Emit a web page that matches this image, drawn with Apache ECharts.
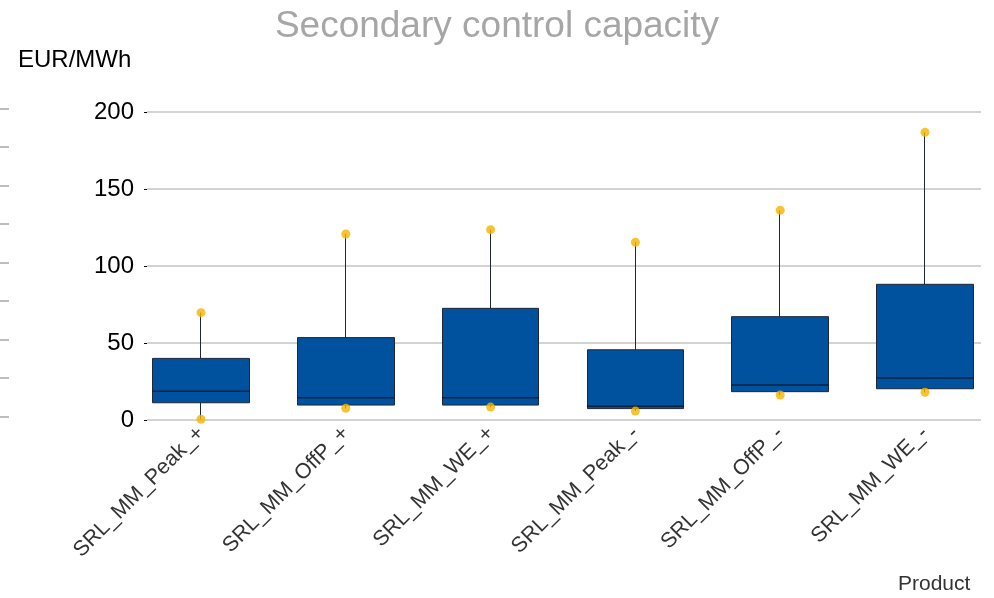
<!DOCTYPE html>
<html>
<head>
<meta charset="utf-8">
<script src="https://cdn.jsdelivr.net/npm/echarts@6/dist/echarts.min.js"></script>
<style>html,body{margin:0;padding:0;background:#fff}#c{width:994px;height:598px}</style>
</head>
<body>
<div id="c"></div>
<script>
const categories = ['SRL_MM_Peak_+', 'SRL_MM_OffP_+', 'SRL_MM_WE_+', 'SRL_MM_Peak_-', 'SRL_MM_OffP_-', 'SRL_MM_WE_-'];
const minVals    = [0.5, 7.6, 8.4, 5.8, 16.2, 18.0];
const q1Vals     = [11.2, 9.7, 9.7, 7.4, 18.4, 20.3];
const medianVals = [18.6, 14.5, 14.5, 8.9, 22.7, 27.3];
const q3Vals     = [40.0, 53.5, 72.5, 45.6, 67.1, 88.1];
const maxVals    = [69.7, 120.8, 123.6, 115.4, 136.2, 186.8];
const yTicks = { min: 0, max: 200, interval: 50 };

const chart = echarts.init(document.getElementById('c'), null, { renderer: 'canvas' });
const candleData = categories.map((c, i) => [q1Vals[i], q3Vals[i], minVals[i], maxVals[i]]);
const FONT = 'Liberation Sans, Arial, sans-serif';

chart.setOption({
  animation: false,
  textStyle: { fontFamily: FONT },
  title: {
    text: 'Secondary control capacity',
    left: 'center', top: 3,
    textStyle: { fontSize: 37, fontWeight: 'normal', color: '#a6a6a6', fontFamily: FONT }
  },
  graphic: [
    { type: 'text', left: 18, top: 48, style: { text: 'EUR/MWh', fontSize: 24, fill: '#000', fontFamily: FONT } },
    { type: 'text', left: 898, top: 574, style: { text: 'Product', fontSize: 21, fill: '#333', fontFamily: FONT } }
  ],
  grid: [
    { left: 147, width: 834, top: 112, bottom: 178 },
    { left: 201, width: 724, top: 112, bottom: 178 },
    { left: 9, width: 1, top: 108.7, bottom: 181.3 }
  ],
  xAxis: [
    { type: 'category', gridIndex: 0, data: categories, show: false },
    { type: 'category', gridIndex: 1, data: categories, boundaryGap: false,
      axisLine: { show: false }, axisTick: { show: false },
      axisLabel: { rotate: 45, fontSize: 21.5, color: '#333', margin: 10, interval: 0 } },
    { type: 'value', gridIndex: 2, show: false }
  ],
  yAxis: [
    { type: 'value', gridIndex: 0, min: yTicks.min, max: yTicks.max, interval: yTicks.interval,
      axisLine: { show: false },
      axisTick: { show: true, length: 3, lineStyle: { color: '#000' } },
      axisLabel: { fontSize: 24, color: '#000', margin: 13 },
      splitLine: { lineStyle: { color: '#c4c4c4', width: 1.5 } } },
    { type: 'value', gridIndex: 1, min: yTicks.min, max: yTicks.max, show: false },
    { type: 'value', gridIndex: 2, min: 0, max: 200, interval: 25,
      axisLine: { show: false },
      axisTick: { show: true, length: 9, lineStyle: { color: '#bdbdbd', width: 2 } },
      axisLabel: { show: false }, splitLine: { show: false } }
  ],
  series: [
    { type: 'candlestick', xAxisIndex: 1, yAxisIndex: 1, data: candleData, barWidth: '67%', clip: false,
      itemStyle: { color: '#00519e', color0: '#00519e', borderColor: '#1e2836', borderColor0: '#1e2836', borderWidth: 1 } },
    { type: 'scatter', xAxisIndex: 1, yAxisIndex: 1, data: medianVals, symbol: 'rect', symbolSize: [97, 1.5], clip: false,
      itemStyle: { color: '#0b1626' }, z: 3 },
    { type: 'scatter', xAxisIndex: 1, yAxisIndex: 1, data: maxVals, symbolSize: 9, clip: false,
      itemStyle: { color: '#f5b400' }, z: 4 },
    { type: 'scatter', xAxisIndex: 1, yAxisIndex: 1, data: minVals, symbolSize: 9, clip: false,
      itemStyle: { color: '#f5b400' }, z: 4 }
  ]
});
</script>
</body>
</html>
